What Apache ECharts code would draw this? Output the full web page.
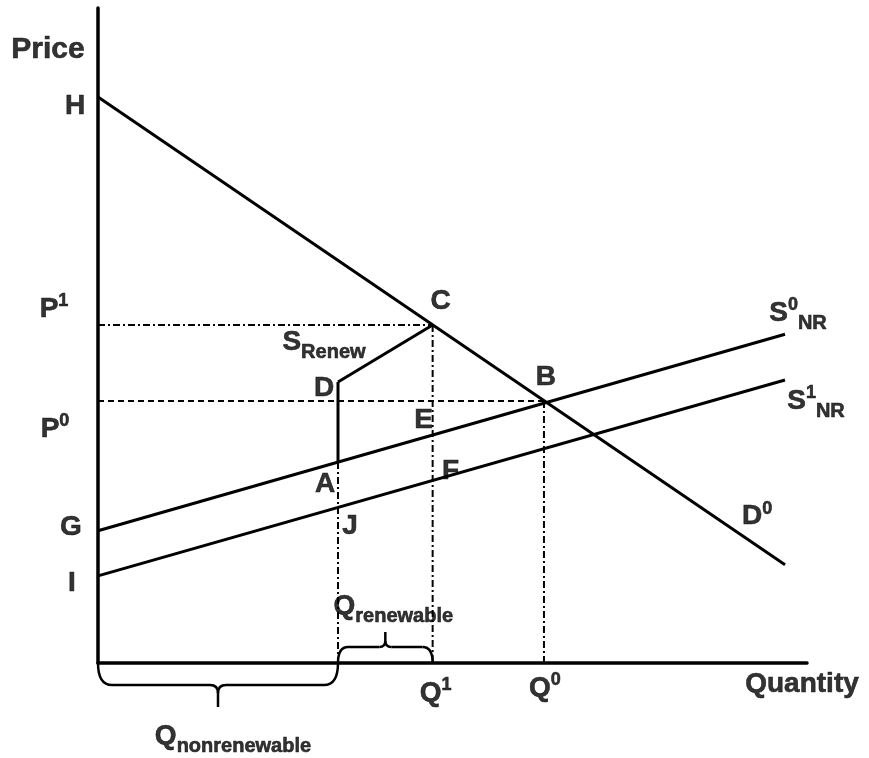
<!DOCTYPE html>
<html><head><meta charset="utf-8">
<script src="https://cdn.jsdelivr.net/npm/echarts@6/dist/echarts.min.js"></script>
<style>html,body{margin:0;padding:0;background:#fff}#c{width:869px;height:758px}</style>
</head><body><div id="c"></div>
<script>
// ---- data (quantity units on x, price units on y; axes run 0..100) ----
const pointNames = ['H', 'C', 'B', 'D', 'A', 'J', 'E', 'F', 'G', 'I'];
const pointQ     = [0,   47.2, 62.9, 33.85, 33.85, 33.85, 47.2, 47.2, 0,    0];
const pointP     = [86.4, 51.6, 40.0, 42.9, 30.7, 23.7,  34.8, 27.85, 20.2, 13.3];
const curveEndQ  = 96.9;
const curveEndP  = { D0: 15.0, S0: 50.2, S1: 43.2 };
const braceRanges = [[0, 33.85, 1], [33.85, 47.2, -1]]; // [from Q, to Q, direction]

const P = name => [pointQ[pointNames.indexOf(name)], pointP[pointNames.indexOf(name)]];

const FONT = "'Liberation Sans', Arial, sans-serif";
const base = { fontFamily: FONT, fontWeight: 'bold', color: '#000', textBorderColor: '#000', textBorderWidth: 0.6 };
const rich = {
  b:    Object.assign({ fontSize: 28, lineHeight: 40, verticalAlign: 'middle' }, base),
  pr:   Object.assign({ fontSize: 30, lineHeight: 40, verticalAlign: 'middle' }, base),
  sup:  Object.assign({ fontSize: 18, lineHeight: 18, verticalAlign: 'top', padding: [3, 0, 0, 0] }, base),
  sub:  Object.assign({ fontSize: 20, lineHeight: 20, verticalAlign: 'bottom' }, base),
  subN: Object.assign({ fontSize: 20, lineHeight: 20, verticalAlign: 'bottom', padding: [4, 0, 0, 0] }, base),
  sub2: Object.assign({ fontSize: 20, lineHeight: 20, verticalAlign: 'bottom', padding: [8, 0, 0, 0] }, base)
};

// label definitions: text, anchor (from data), pixel offset
const labels = [
  ['{pr|Price}', [0, 100], [-50, 42]],
  ['{b|H}', P('H'), [-23, 9]],
  ['{b|P}{sup|1}', [0, P('C')[1]], [-44, -16]],
  ['{b|P}{sup|0}', [0, P('B')[1]], [-43, 28]],
  ['{b|G}', P('G'), [-27, -3]],
  ['{b|I}', P('I'), [-26, 7]],
  ['{b|C}', P('C'), [8, -24]],
  ['{b|S}{sub|Renew}', P('D'), [-14, -40]],
  ['{b|D}', P('D'), [-14, 6]],
  ['{b|B}', P('B'), [2, -24]],
  ['{b|E}', P('E'), [-9, -15]],
  ['{b|A}', P('A'), [-13, 22]],
  ['{b|F}', P('F'), [18, -9]],
  ['{b|J}', P('J'), [12, 19]],
  ['{b|S}{sup|0}{subN|NR}', [curveEndQ, curveEndP.S0], [13, -21]],
  ['{b|S}{sup|1}{subN|NR}', [curveEndQ, curveEndP.S1], [31, 21]],
  ['{b|D}{sup|0}', [curveEndQ, curveEndP.D0], [-28, -48]],
  ['{b|Q}{sub2|renewable}', [(P('D')[0] + P('C')[0]) / 2, 0], [8, -57]],
  ['{b|Q}{sup|1}', [P('C')[0], 0], [3, 30]],
  ['{b|Q}{sup|0}', [P('B')[0], 0], [1, 25]],
  ['{b|Quantity}', [100, 0], [-5, 21]],
  ['{b|Q}{sub|nonrenewable}', [P('D')[0] / 2, 0], [15, 73]]
];

const solid = { color: '#000', width: 3 };
const dashDot = { color: '#000', width: 2, type: [7, 3, 2, 3] };
const dashed = { color: '#000', width: 2, type: [6, 4] };
const seg = (data, lineStyle) => ({ type: 'line', data, symbol: 'none', lineStyle, silent: true, z: 3 });

const chart = echarts.init(document.getElementById('c'), null, { renderer: 'canvas' });
chart.setOption({
  animation: false,
  backgroundColor: '#fff',
  grid: { left: 98, right: 62, top: 8, bottom: 95 },
  xAxis: { type: 'value', min: 0, max: 100, axisLine: { show: true, onZero: false, lineStyle: { color: '#000', width: 3.5 } },
           axisTick: { show: false }, axisLabel: { show: false }, splitLine: { show: false } },
  yAxis: { type: 'value', min: 0, max: 100, axisLine: { show: true, onZero: false, lineStyle: { color: '#000', width: 3.5 } },
           axisTick: { show: false }, axisLabel: { show: false }, splitLine: { show: false } },
  series: [
    seg([P('H'), [curveEndQ, curveEndP.D0]], solid),
    seg([P('G'), [curveEndQ, curveEndP.S0]], solid),
    seg([P('I'), [curveEndQ, curveEndP.S1]], solid),
    seg([P('D'), P('C')], solid),
    seg([P('D'), P('A')], solid),
    seg([[0, P('C')[1]], P('C')], dashDot),
    seg([[0, P('B')[1]], P('B')], dashed),
    seg([P('C'), [P('C')[0], 0]], dashDot),
    seg([P('B'), [P('B')[0], 0]], dashDot),
    seg([P('A'), [P('A')[0], 0]], dashDot),
    {
      type: 'custom', silent: true, z: 4,
      data: braceRanges,
      renderItem: function (params, api) {
        const d = api.value(2);
        const a = api.coord([api.value(0), 0]);
        const b = api.coord([api.value(1), 0]);
        const h = d > 0 ? 22 : 16, t = d > 0 ? 22 : 15;
        const r = d > 0 ? 14 : 10, r2 = d > 0 ? 8 : 6;
        const y0 = a[1], yh = y0 + d * h, xm = (a[0] + b[0]) / 2;
        const st = { stroke: '#000', lineWidth: 2.5, fill: null };
        return { type: 'group', children: [
          { type: 'bezierCurve', shape: { x1: a[0], y1: y0, cpx1: a[0], cpy1: yh, x2: a[0] + r, y2: yh }, style: st },
          { type: 'line', shape: { x1: a[0] + r, y1: yh, x2: xm - r2, y2: yh }, style: st },
          { type: 'bezierCurve', shape: { x1: xm - r2, y1: yh, cpx1: xm, cpy1: yh, x2: xm, y2: yh + d * r2 }, style: st },
          { type: 'line', shape: { x1: xm, y1: yh + d * r2, x2: xm, y2: yh + d * t }, style: st },
          { type: 'bezierCurve', shape: { x1: xm + r2, y1: yh, cpx1: xm, cpy1: yh, x2: xm, y2: yh + d * r2 }, style: st },
          { type: 'line', shape: { x1: xm + r2, y1: yh, x2: b[0] - r, y2: yh }, style: st },
          { type: 'bezierCurve', shape: { x1: b[0] - r, y1: yh, cpx1: b[0], cpy1: yh, x2: b[0], y2: y0 }, style: st }
        ] };
      }
    },
    {
      type: 'scatter', silent: true, z: 5, symbolSize: 1, itemStyle: { color: 'rgba(0,0,0,0)' },
      data: labels.map(l => ({
        value: l[1],
        label: { show: true, position: 'inside', offset: l[2], formatter: l[0], rich: rich,
                 align: 'center', verticalAlign: 'middle', color: '#000' }
      }))
    }
  ]
});
</script>
</body></html>
